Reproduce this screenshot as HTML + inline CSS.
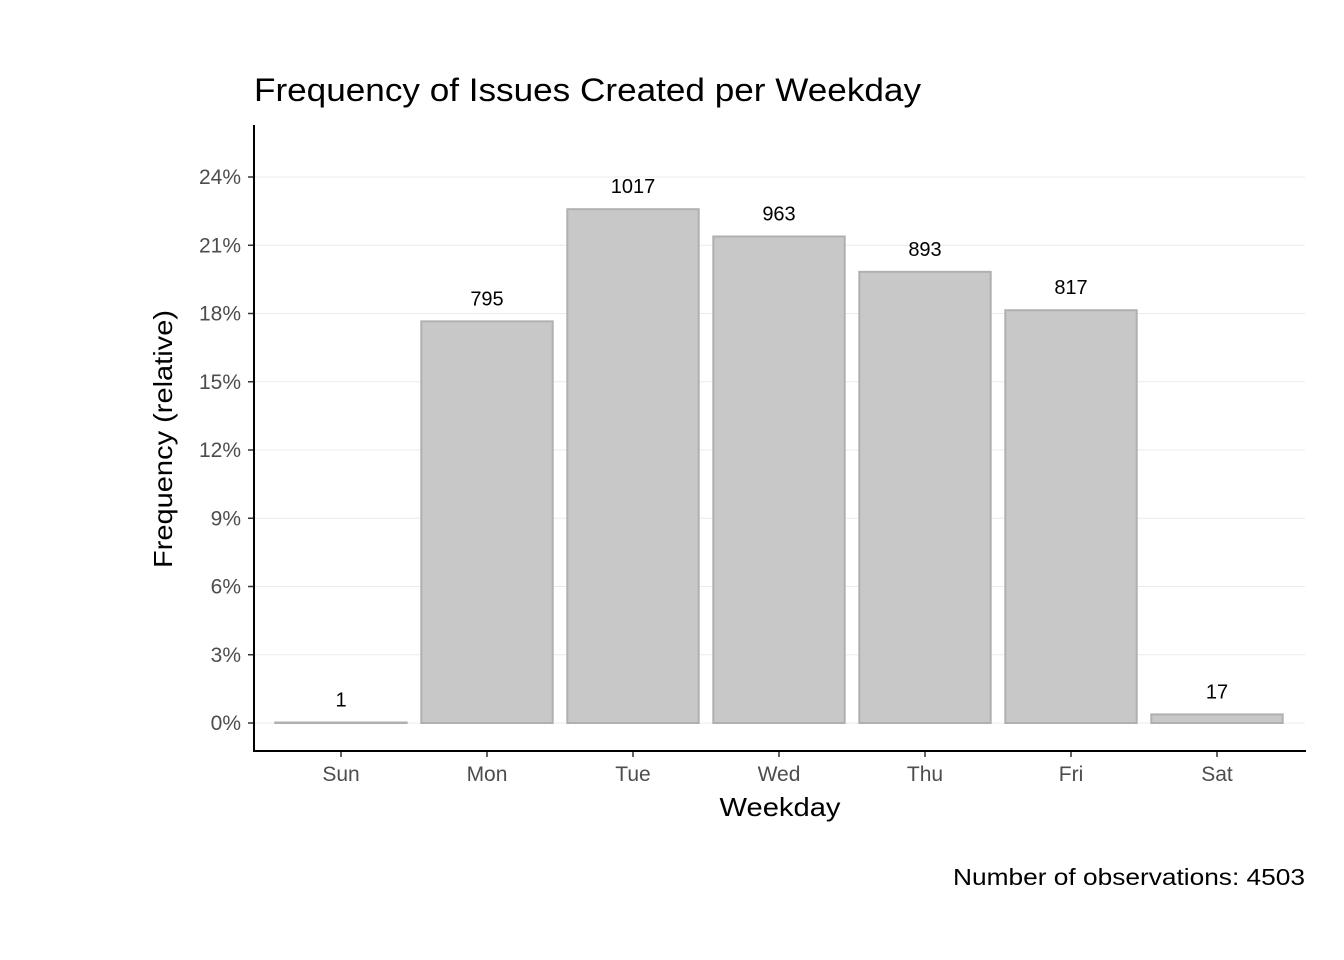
<!DOCTYPE html>
<html><head><meta charset="utf-8"><style>
body{margin:0;background:#fff}
svg{display:block;font-family:"Liberation Sans",Arial,sans-serif}
</style></head><body>
<svg id="chart" width="1344" height="960">
<text x="254" y="101" font-size="32" fill="#000" textLength="667" lengthAdjust="spacingAndGlyphs">Frequency of Issues Created per Weekday</text>
<g id="grid"></g><g id="bars"></g><g id="labels"></g><g id="yticks"></g><g id="xticks"></g>
<line x1="254" y1="125" x2="254" y2="752" stroke="#000" stroke-width="2"/>
<line x1="253" y1="751" x2="1306" y2="751" stroke="#000" stroke-width="2"/>
<text x="780" y="816" font-size="26" text-anchor="middle" textLength="121" lengthAdjust="spacingAndGlyphs">Weekday</text>
<text transform="translate(172,439) rotate(-90)" font-size="26" text-anchor="middle" textLength="258" lengthAdjust="spacingAndGlyphs">Frequency (relative)</text>
<text x="1305" y="885" font-size="23" text-anchor="end" textLength="352" lengthAdjust="spacingAndGlyphs">Number of observations: 4503</text>
</svg>
<script>
const categories=["Sun","Mon","Tue","Wed","Thu","Fri","Sat"];
const counts=[1,795,1017,963,893,817,17];
const yTicks=[0,3,6,9,12,15,18,21,24];
const total=4503;
const NS="http://www.w3.org/2000/svg";
function y(p){return 723-p*22.75;}
function x(i){return 341+i*146;}
function mk(tag,attrs,parent,txt){const e=document.createElementNS(NS,tag);for(const k in attrs)e.setAttribute(k,attrs[k]);if(txt!==undefined)e.textContent=txt;document.getElementById(parent).appendChild(e);return e;}
yTicks.forEach(t=>{
  let g=mk("line",{x1:254,x2:1305,y1:y(t),y2:y(t),stroke:"#ebebeb","stroke-width":1},"grid");
  
  
  let tk=mk("line",{x1:248,x2:254,y1:y(t),y2:y(t),stroke:"#333","stroke-width":1.5},"yticks");
  
  
  let l=mk("text",{x:241,y:y(t)+7,"font-size":21,"text-anchor":"end",fill:"#4d4d4d"},"yticks",t+"%");
  
  
});
categories.forEach((c,i)=>{
  const p=counts[i]/total*100, top=y(p);
  let b=mk("rect",{x:x(i)-65.7,y:top,width:131.4,height:Math.max(723-top,0.5),fill:"#c8c8c8",stroke:"#b0b0b0","stroke-width":2},"bars");
  
  
  let v=mk("text",{x:x(i),y:top-16,"font-size":20,"text-anchor":"middle",fill:"#000"},"labels",String(counts[i]));
  
  
  let tk=mk("line",{x1:x(i),x2:x(i),y1:751,y2:757,stroke:"#333","stroke-width":1.5},"xticks");
  
  
  let l=mk("text",{x:x(i),y:781,"font-size":21,"text-anchor":"middle",fill:"#4d4d4d"},"xticks",c);
  
  
});
</script>
</body></html>
